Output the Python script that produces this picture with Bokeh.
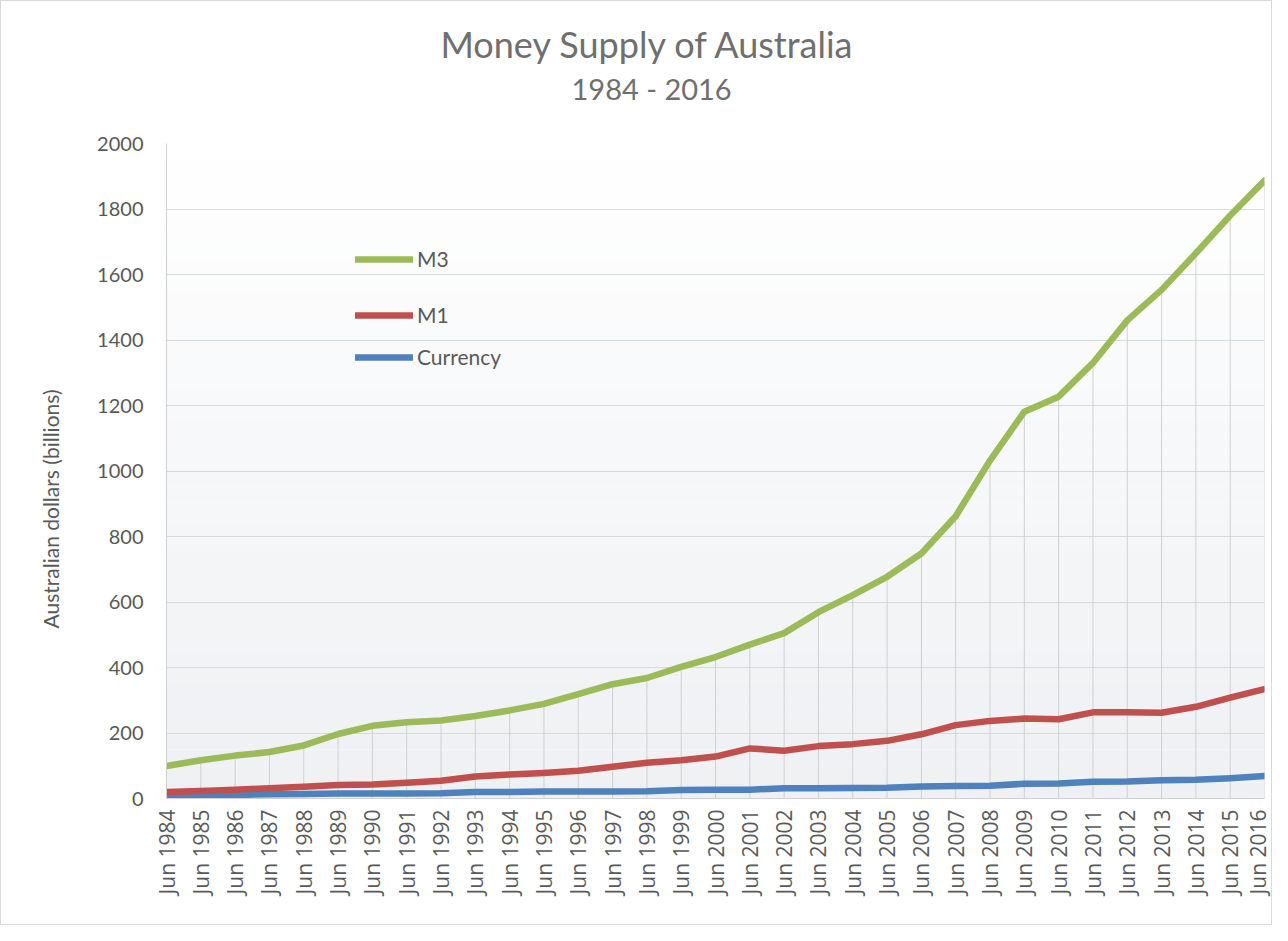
import numpy as np
from bokeh.plotting import figure
from bokeh.models import (Range1d, FixedTicker, Title, Legend, LegendItem,
                          BoxAnnotation, ColumnDataSource)
from bokeh.embed import file_html
from bokeh.resources import INLINE

# ---------------- data ----------------
years = list(range(1984, 2017))
labels = [f"Jun {y}" for y in years]
m3 = [99, 117, 131, 142, 162, 197, 222, 233, 238, 252, 269, 289, 319, 349,
      368, 402, 432, 470, 505, 569, 621, 677, 748, 862, 1032, 1181, 1227,
      1330, 1460, 1553, 1665, 1780, 1887]
m1 = [20, 23, 27, 31, 36, 41, 43, 48, 54, 67, 73, 78, 85, 97, 109, 117, 128,
      153, 146, 160, 166, 176, 196, 224, 237, 244, 242, 263, 263, 262, 280,
      308, 334]
currency = [9, 10, 11, 13, 14, 15, 15, 15, 16, 20, 20, 21, 21, 21, 22, 26, 27,
            27, 31, 31, 32, 33, 37, 38, 39, 45, 46, 51, 52, 56, 57, 62, 69]
y_ticks = list(range(0, 2001, 200))

x = list(range(len(years)))
src = ColumnDataSource(dict(x=x, m3=m3, m1=m1, cur=currency,
                            zero=[0] * len(x), label=labels))

GREEN, RED, BLUE = "#9BBB59", "#C0504D", "#4F81BD"
TXT = "#595959"
TITLE_C = "#6f6f6f"

p = figure(width=1272, height=925, output_backend="svg", toolbar_location=None,
           x_range=Range1d(0, len(x) - 1), y_range=Range1d(0, 2000),
           min_border_left=165, min_border_right=9, min_border_top=142,
           min_border_bottom=128)
p.styles = {"border": "1px solid #d9d9d9"}
p.outline_line_color = None
p.background_fill_color = "white"

# gradient background
n_bands = 40
edges = np.linspace(0, 2000, n_bands + 1)
for k in range(n_bands):
    t = 1 - (k + 0.5) / n_bands  # 1 at bottom, 0 at top
    r = int(round(255 - 17 * t)); g = int(round(255 - 15 * t)); b = int(round(255 - 12 * t))
    p.add_layout(BoxAnnotation(bottom=edges[k], top=edges[k + 1],
                               fill_color=f"#{r:02x}{g:02x}{b:02x}", fill_alpha=1,
                               line_color=None, level="image"))

# grid
p.xgrid.grid_line_color = None
p.ygrid.grid_line_color = "#d9d9d9"
p.ygrid.ticker = FixedTicker(ticks=y_ticks)

# drop lines from M3 points
p.segment(x0="x", y0="zero", x1="x", y1="m3", source=src,
          line_color="#d0d0d0", line_width=1)

r_cur = p.line("x", "cur", source=src, line_color=BLUE, line_width=6.5,
               line_join="round", line_cap="round")
r_m1 = p.line("x", "m1", source=src, line_color=RED, line_width=6.5,
              line_join="round", line_cap="round")
r_m3 = p.line("x", "m3", source=src, line_color=GREEN, line_width=6.5,
              line_join="round", line_cap="round")

# axes
p.yaxis.ticker = FixedTicker(ticks=y_ticks)
p.yaxis.major_label_text_font = "Lato"
p.yaxis.major_label_text_font_size = "20px"
p.yaxis.major_label_text_color = TXT
p.yaxis.major_label_standoff = 17
p.yaxis.axis_line_color = "#d0d0d0"
p.yaxis.major_tick_line_color = None
p.yaxis.minor_tick_line_color = None

p.xaxis.ticker = FixedTicker(ticks=x)
p.xaxis.major_label_overrides = {i: lab for i, lab in zip(x, labels)}
p.xaxis.major_label_orientation = np.pi / 2
p.xaxis.major_label_text_font = "Open Sans"
p.xaxis.major_label_text_font_size = "21px"
p.xaxis.major_label_text_color = TXT
p.xaxis.major_label_standoff = 5
p.xaxis.axis_line_color = "#d0d0d0"
p.xaxis.major_tick_line_color = None
p.xaxis.minor_tick_line_color = None

# y axis title (left-side title so it can sit lower, like the original)
p.add_layout(Title(text="Australian dollars (billions)", align="left",
                   text_font="Lato", text_font_size="21px",
                   text_font_style="normal", text_color=TXT,
                   offset=170, standoff=64), "left")

# titles: spacer (next to frame), subtitle, main title
p.add_layout(Title(text=" ", text_font_size="1px", standoff=32), "above")
p.add_layout(Title(text="1984 - 2016", align="left", text_font="Lato",
                   text_font_size="29px", text_font_style="normal",
                   text_color=TITLE_C, offset=405, standoff=6), "above")
p.add_layout(Title(text="Money Supply of Australia", align="left",
                   text_font="Lato", text_font_size="36px",
                   text_font_style="normal", text_color=TITLE_C,
                   offset=274, standoff=0), "above")

# legends (one per entry to match uneven spacing)
for name, rend, yy in [("M3", r_m3, 527), ("M1", r_m1, 471), ("Currency", r_cur, 429)]:
    lg = Legend(items=[LegendItem(label=name, renderers=[rend])],
                location=(189, yy), padding=0, margin=0, spacing=0,
                glyph_width=58, glyph_height=20, label_standoff=4,
                label_text_font="Lato", label_text_font_size="21px",
                label_text_color=TXT, border_line_color=None,
                background_fill_alpha=0)
    p.add_layout(lg)

open("out.html", "w").write(file_html(p, INLINE))
